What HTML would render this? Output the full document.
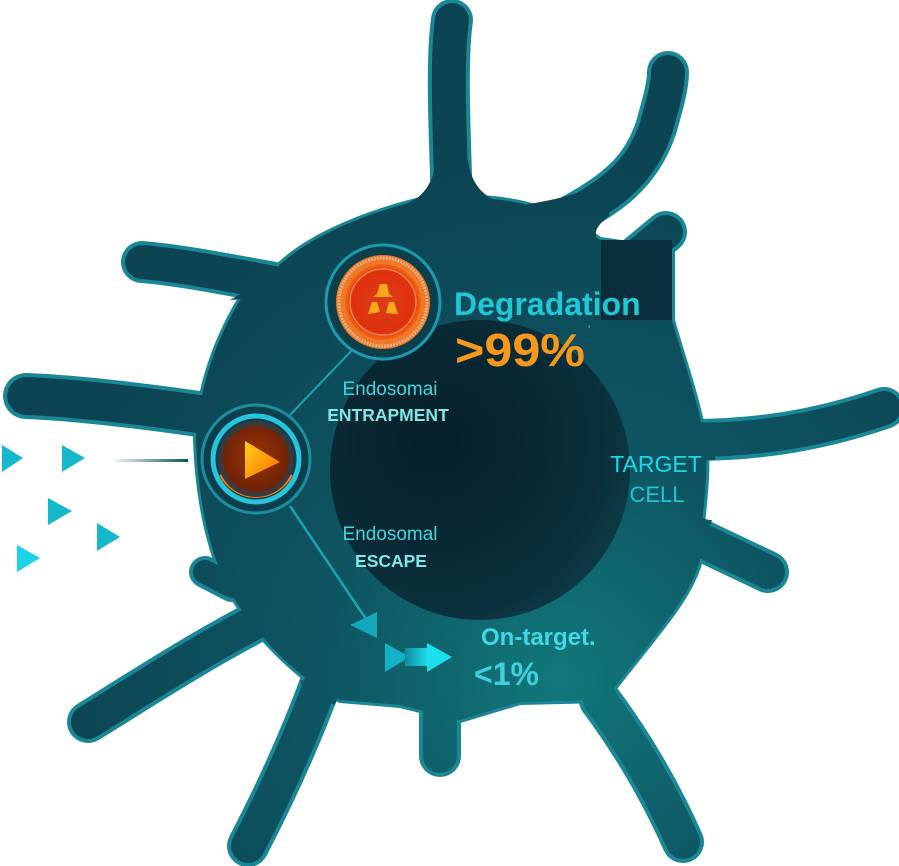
<!DOCTYPE html>
<html><head><meta charset="utf-8"><style>
html,body{margin:0;padding:0;background:#fff;}
svg{display:block}
text{font-family:"Liberation Sans",sans-serif}
</style></head><body>
<svg width="899" height="866" viewBox="0 0 899 866" xmlns="http://www.w3.org/2000/svg">
<defs>
<radialGradient id="bodyg" gradientUnits="userSpaceOnUse" cx="560" cy="680" r="520">
<stop offset="0" stop-color="#11787a"/><stop offset="0.45" stop-color="#0e5562"/><stop offset="1" stop-color="#0c4453"/>
</radialGradient>
<radialGradient id="nuc" cx="0.35" cy="0.4" r="0.7">
<stop offset="0" stop-color="#061f29"/><stop offset="0.8" stop-color="#0a2f3b"/><stop offset="1" stop-color="#0c3b47"/>
</radialGradient>
<radialGradient id="redg" cx="0.5" cy="0.5" r="0.5">
<stop offset="0" stop-color="#d8401a"/><stop offset="0.8" stop-color="#e0300c"/><stop offset="1" stop-color="#f26a10"/>
</radialGradient>
<radialGradient id="playg" cx="0.5" cy="0.45" r="0.55">
<stop offset="0" stop-color="#9a3208"/><stop offset="1" stop-color="#6e2206"/>
</radialGradient>
<linearGradient id="tri" x1="0" y1="0" x2="1" y2="1">
<stop offset="0" stop-color="#ffd21a"/><stop offset="1" stop-color="#ff6a00"/>
</linearGradient>
<linearGradient id="lineg" x1="0" x2="1">
<stop offset="0" stop-color="#0b5060" stop-opacity="0"/><stop offset="1" stop-color="#0b5060"/>
</linearGradient>
<linearGradient id="arrg" x1="0" x2="1">
<stop offset="0" stop-color="#0f8ea0"/><stop offset="1" stop-color="#1de3f0"/>
</linearGradient>
</defs>

<!-- rim layer -->
<g fill="none" stroke="#1a8797" stroke-linecap="round" stroke-linejoin="round">
<path d="M270,275 C300,240 360,215 420,200 L480,198 C520,200 560,210 600,240 L672,250 L672,320 C680,350 695,390 705,440 C710,480 700,520 700,560 C690,600 650,640 605,700 L520,702 L460,720 L400,705 L340,700 C300,680 260,640 235,600 C210,560 198,500 196,440 C198,400 210,350 240,300 Z" stroke-width="6" fill="#1a8797"/>
<g stroke-width="42">
<path d="M452,205 C450,140 446,60 452,20"/>
<path d="M560,222 C610,195 640,175 656,128 C664,100 668,85 668,72"/>
<path d="M630,262 L666,232"/>
<path d="M690,440 C760,440 820,430 884,408"/>
<path d="M690,535 L768,572"/>
<path d="M600,700 C630,740 660,790 683,842"/>
<path d="M440,715 L440,756"/>
<path d="M322,680 C300,740 272,800 248,846"/>
<path d="M275,612 C200,650 140,690 88,722"/>
<path d="M205,572 L232,586" stroke-width="32"/>
<path d="M225,418 C160,408 80,398 26,396" stroke-width="46"/>
<path d="M285,285 C230,275 180,265 142,262" stroke-width="42"/>
</g>
</g>
<!-- fill layer -->
<g fill="none" stroke="url(#bodyg)" stroke-linecap="round" stroke-linejoin="round">
<g stroke-width="34">
<path d="M452,205 C450,140 446,60 452,20"/>
<path d="M560,222 C610,195 640,175 656,128 C664,100 668,85 668,72"/>
<path d="M630,262 L666,232"/>
<path d="M690,440 C760,440 820,430 884,408"/>
<path d="M690,535 L768,572"/>
<path d="M600,700 C630,740 660,790 683,842"/>
<path d="M440,715 L440,756"/>
<path d="M322,680 C300,740 272,800 248,846"/>
<path d="M275,612 C200,650 140,690 88,722"/>
<path d="M205,572 L232,586" stroke-width="24"/>
<path d="M225,418 C160,408 80,398 26,396" stroke-width="38"/>
<path d="M285,285 C230,275 180,265 142,262"/>
</g>
<path d="M270,275 C300,240 360,215 420,200 L480,198 C520,200 560,210 600,240 L672,250 L672,320 C680,350 695,390 705,440 C710,480 700,520 700,560 C690,600 650,640 605,700 L520,702 L460,720 L400,705 L340,700 C300,680 260,640 235,600 C210,560 198,500 196,440 C198,400 210,350 240,300 Z" stroke="none" fill="url(#bodyg)"/>
<!-- flared bases -->
<g stroke="none" fill="url(#bodyg)">
<path d="M405,204 Q432,195 436,160 L468,160 Q472,195 505,204 Z"/>
<path d="M515,206 Q560,200 585,190 L610,215 Q590,230 598,240 Z"/>
<path d="M230,300 Q250,290 262,268 L292,276 Q285,290 290,295 Z"/>
<path d="M198,440 Q206,430 200,395 L205,396 L212,445 Z"/>
<path d="M690,415 Q700,425 715,422 L715,460 Q700,458 692,470 Z"/>
<path d="M695,510 Q700,520 712,520 L700,555 Z"/>
<path d="M580,695 Q598,690 608,678 L620,700 Q600,705 590,710 Z"/>
<path d="M300,680 L340,690 L335,705 L305,695 Z"/>
<path d="M238,600 Q250,610 265,605 L270,630 L255,640 Z"/>
</g>
</g>
<rect x="601" y="240" width="71" height="80" fill="#0a2e3a"/>
<circle cx="480" cy="470" r="150" fill="url(#nuc)"/>

<!-- connectors -->
<line x1="356" y1="346" x2="290" y2="415" stroke="#1aa3b5" stroke-width="2"/>
<line x1="290" y1="506" x2="368" y2="622" stroke="#1aa3b5" stroke-width="2.5"/>
<polygon points="350,625 377,612 377,638" fill="#13a9bd"/>
<polygon points="385,643 410,657 385,672" fill="#12b2c6"/>
<rect x="405" y="648" width="25" height="18" fill="url(#arrg)"/>
<polygon points="427,643 452,657 427,672" fill="#1de0ee"/>

<!-- top circle -->
<circle cx="383" cy="302" r="57" fill="#0b3f4c" stroke="#1b9ab0" stroke-width="3"/>
<circle cx="383" cy="302" r="47" fill="#f0782a"/>
<circle cx="383" cy="302" r="44" fill="none" stroke="#f3c9a0" stroke-width="3" stroke-dasharray="1.5 1.5"/>
<circle cx="383" cy="302" r="38" fill="url(#redg)"/>
<circle cx="383" cy="302" r="33" fill="none" stroke="#f59a70" stroke-width="1"/>
<path d="M380,284 L387,284 L389,294 L393,297 L373,297 L377,294 Z" fill="#f8a818"/>
<path d="M372,302 L377,302 L380,312 L368,314 Z" fill="#f8a818"/>
<path d="M389,302 L394,302 L398,314 L386,313 Z" fill="#f8a818"/>

<!-- play circle -->
<circle cx="256" cy="459" r="54" fill="#0b3f4c" stroke="#1b8ea2" stroke-width="3"/>
<circle cx="256" cy="459" r="43" fill="none" stroke="#28c4dc" stroke-width="5"/>
<path d="M222,474 A38,38 0 0 0 290,474" fill="none" stroke="#ff7a10" stroke-width="6"/>
<circle cx="256" cy="459" r="38" fill="#3a3a3e"/>
<circle cx="256" cy="459" r="33" fill="url(#playg)"/>
<polygon points="245,441 280,462 245,479" fill="url(#tri)"/>

<!-- left triangles -->
<g fill="#17b7cb">
<polygon points="2,445 23,458 2,472"/>
<polygon points="62,445 85,458 62,472"/>
<polygon points="48,498 72,511 48,525"/>
<polygon points="97,523 120,537 97,551"/>
<polygon points="17,545 40,558 17,572" fill="#1ad3e6"/>
</g>
<rect x="110" y="459" width="78" height="3" fill="url(#lineg)"/>

<!-- text -->
<text x="454" y="315" font-size="32" font-weight="bold" fill="#1fc8d6">Degradation</text>
<text x="455" y="366" font-size="46" fill="#f7981c" font-weight="bold" textLength="130" lengthAdjust="spacingAndGlyphs">&gt;99%</text>
<text x="588" y="333" font-size="10" fill="#7ee0e8">ʼ</text>
<text x="390" y="395" font-size="19" fill="#3fd6de" text-anchor="middle">Endosomai</text>
<text x="388" y="421" font-size="17.5" font-weight="bold" fill="#7ee8e8" text-anchor="middle">ENTRAPMENT</text>
<text x="390" y="540" font-size="19" fill="#3fd6de" text-anchor="middle">Endosomal</text>
<text x="391" y="567" font-size="17.5" font-weight="bold" fill="#7ee8e8" text-anchor="middle">ESCAPE</text>
<text x="656" y="472" font-size="23" fill="#1fd8e6" text-anchor="middle">TARGET</text>
<text x="657" y="502" font-size="22" fill="#1fc6d6" text-anchor="middle">CELL</text>
<text x="481" y="645" font-size="24" font-weight="bold" fill="#3fd8e6">On-target.</text>
<text x="474" y="685" font-size="32" font-weight="bold" fill="#3fd0dc">&lt;1%</text>
</svg>
</body></html>
